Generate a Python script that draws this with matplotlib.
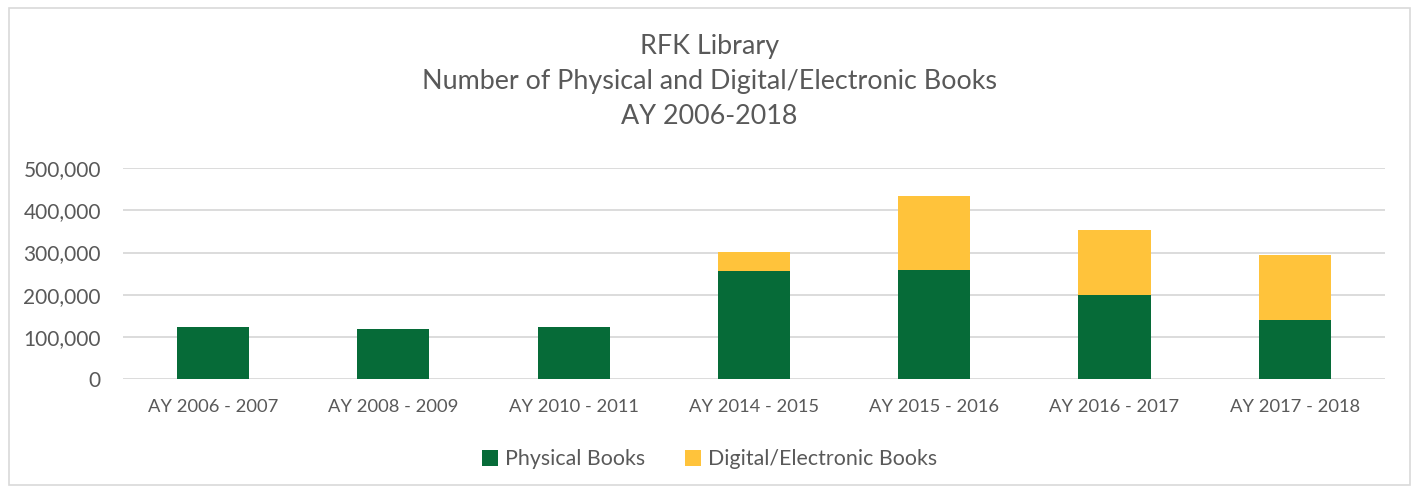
import matplotlib.pyplot as plt
from matplotlib.patches import Rectangle
from matplotlib.ticker import FuncFormatter

years = ["AY 2006 - 2007", "AY 2008 - 2009", "AY 2010 - 2011", "AY 2014 - 2015",
         "AY 2015 - 2016", "AY 2016 - 2017", "AY 2017 - 2018"]
physical = [123600, 119600, 123600, 256600, 258000, 199000, 140000]
digital = [0, 0, 0, 45000, 177000, 154500, 153700]

green = "#066B38"
yellow = "#FFC33B"
txt = "#595959"

plt.rcParams["font.family"] = ["Lato", "DejaVu Sans"]

fig = plt.figure(figsize=(14.19, 4.93), dpi=100)
ax = fig.add_axes([0.0867, 0.231, 0.8893, 0.428])

x = range(len(years))
ax.bar(x, physical, width=0.4, color=green, label="Physical Books", zorder=3)
ax.bar(x, digital, width=0.4, bottom=physical, color=yellow,
       label="Digital/Electronic Books", zorder=3)

ax.set_xlim(-0.5, len(years) - 0.5)
ax.set_ylim(0, 500000)
ax.set_yticks(range(0, 500001, 100000))
ax.yaxis.set_major_formatter(FuncFormatter(lambda v, p: f"{int(v):,}"))
ax.set_xticks(list(x))
ax.set_xticklabels(years)
ax.grid(axis="y", color="#D9D9D9", linewidth=1.3, zorder=0)
for s in ax.spines.values():
    s.set_visible(False)
ax.tick_params(length=0, colors=txt)
ax.tick_params(axis="y", labelsize=15, pad=16)
ax.tick_params(axis="x", labelsize=13.2, pad=14)

fig.text(0.5, 0.834, "RFK Library\nNumber of Physical and Digital/Electronic Books\nAY 2006-2018",
         ha="center", va="center", fontsize=19.4, color=txt, linespacing=1.5)

fig.legend(loc="center", bbox_to_anchor=(0.5, 0.068), ncol=2, frameon=False,
           fontsize=15.4, labelcolor=txt, handlelength=0.75, handleheight=0.75,
           handletextpad=0.3, columnspacing=1.9)

fig.patches.append(Rectangle((0.006, 0.016), 0.988, 0.968, transform=fig.transFigure,
                             fill=False, edgecolor="#D9D9D9", linewidth=1.2))

fig.savefig("out.png", dpi=100)
